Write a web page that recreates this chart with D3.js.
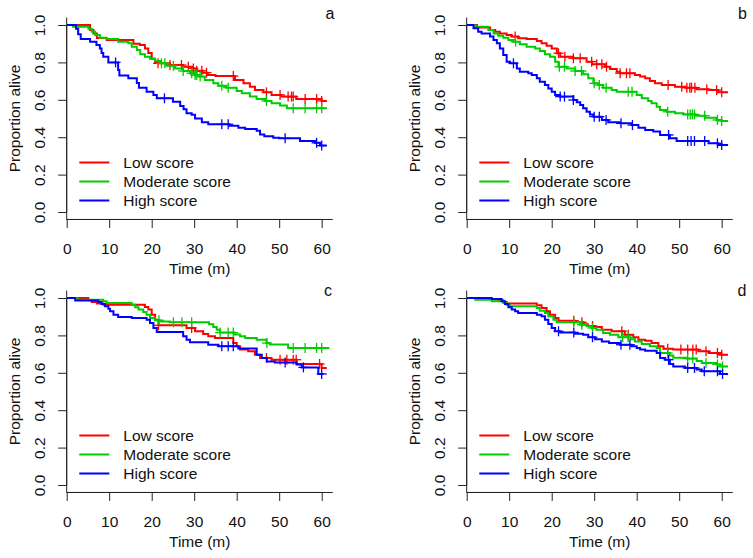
<!DOCTYPE html>
<html><head><meta charset="utf-8">
<script src="https://cdn.jsdelivr.net/npm/d3@7"></script>
<style>body{margin:0;background:#fff}svg{display:block}</style>
</head><body><svg id="chart" width="753" height="558"></svg>
<script>
const seriesNames = ['Low score', 'Moderate score', 'High score'];
const seriesColors = ['#ff0000', '#00cd00', '#0000ff'];
const xTicks = [0, 10, 20, 30, 40, 50, 60];
const yTicks = [0, 0.2, 0.4, 0.6, 0.8, 1.0];
const xLabel = 'Time (m)';
const yLabel = 'Proportion alive';
const panelLetters = ['a', 'b', 'c', 'd'];

// ---- panel a: [time, survival after drop] ----
const aLow = [[5.5,0.973],[6.3,0.955],[7.1,0.93],[9.4,0.92],[15.7,0.90],[17.2,0.893],[18.4,0.875],[19.2,0.85],[20,0.82],[20.8,0.80],[21.5,0.795],[24.3,0.786],[27.4,0.777],[29.4,0.768],[30.5,0.755],[32,0.745],[33.2,0.733],[35,0.727],[39.6,0.706],[41.6,0.688],[43.1,0.67],[44.3,0.652],[46.3,0.64],[48.2,0.626],[50.5,0.617],[54,0.604],[60,0.594]];
const aMod = [[1.5,0.99],[5.1,0.98],[5.9,0.964],[6.7,0.947],[7.8,0.932],[9.4,0.925],[12.1,0.911],[14.5,0.902],[15.3,0.884],[16.5,0.866],[17.3,0.843],[18.4,0.83],[19.6,0.82],[20.8,0.807],[22,0.795],[23.5,0.782],[25.5,0.768],[27.4,0.754],[29,0.742],[30.2,0.733],[31.2,0.724],[32.5,0.706],[34.5,0.688],[35.7,0.675],[37.6,0.665],[40,0.647],[41.2,0.635],[43.1,0.617],[44.7,0.604],[46.7,0.594],[48.2,0.581],[50.2,0.569],[51.8,0.555]];
const aHigh = [[2.2,0.98],[2.7,0.95],[3.3,0.925],[5.5,0.91],[7,0.893],[7.8,0.875],[8.2,0.85],[8.6,0.83],[9.8,0.80],[12.1,0.76],[12.4,0.73],[14.5,0.715],[16.5,0.69],[17,0.665],[18.8,0.643],[20.4,0.626],[21.2,0.608],[25,0.59],[26.7,0.567],[27.5,0.55],[28.2,0.528],[29.4,0.52],[30.2,0.50],[31.8,0.48],[33.3,0.469],[38.3,0.461],[40.4,0.451],[42,0.444],[44.7,0.435],[45.5,0.415],[46.5,0.405],[48.6,0.397],[50,0.394],[54.9,0.38],[58.4,0.37],[59.6,0.355]];
const aLowCens = [21.5,24.3,27,28.6,29.8,30.6,31.8,32.9,39.2,47,50.2,52.1,52.9,53.3,56.1,58.8,60];
const aModCens = [22.3,23.1,25.1,27.4,29.4,30.2,30.6,31.4,36.5,38,47,53.3,56.1,58.8,60];
const aHighCens = [11.5,23,36.5,38,51.4,58.8,60];
const aEnds = [61.2, 61.2, 61.2];

// ---- panel b ----
const bLow = [[2.4,0.986],[5.5,0.973],[6.7,0.964],[7.8,0.955],[9.4,0.947],[10.6,0.938],[12.1,0.929],[14.1,0.925],[16.5,0.914],[17.6,0.902],[18.8,0.889],[20,0.875],[21.2,0.849],[22,0.83],[25.1,0.822],[28.2,0.804],[29.5,0.79],[32.5,0.777],[33.7,0.765],[35.3,0.75],[36.1,0.742],[39.6,0.733],[40.8,0.724],[42,0.715],[43.1,0.70],[44.3,0.688],[45.9,0.679],[49,0.67],[51.4,0.665],[54.1,0.656],[56.9,0.652],[59.2,0.64]];
const bMod = [[2,0.99],[5.1,0.973],[6.3,0.955],[7.4,0.943],[8.6,0.932],[9.8,0.92],[11,0.911],[12.5,0.897],[14.1,0.884],[16.1,0.875],[17.2,0.861],[18.4,0.843],[19.6,0.83],[20.8,0.804],[21.6,0.777],[23.5,0.768],[25.5,0.754],[27.4,0.736],[28.6,0.715],[29.8,0.688],[31,0.679],[32.1,0.665],[34.1,0.652],[35.3,0.643],[40,0.626],[41.2,0.608],[42.7,0.594],[43.5,0.581],[44.7,0.563],[45.5,0.545],[47.1,0.536],[49,0.528],[51,0.522],[53.7,0.515],[56.1,0.504],[58.8,0.492],[60,0.487]];
const bHigh = [[1.6,0.982],[2.7,0.964],[3.5,0.955],[5.5,0.938],[6.3,0.92],[7.1,0.902],[7.8,0.875],[8.6,0.84],[9.4,0.804],[10.2,0.795],[11.8,0.768],[12.5,0.75],[14.5,0.742],[15.3,0.733],[16.5,0.715],[17.2,0.697],[18.4,0.679],[19.2,0.661],[20,0.643],[20.8,0.626],[22,0.617],[25.1,0.599],[25.9,0.587],[26.7,0.572],[27.4,0.555],[28.2,0.536],[29,0.522],[29.8,0.51],[31.8,0.492],[33.3,0.48],[36.1,0.474],[38.8,0.465],[40.4,0.451],[42,0.439],[43.9,0.43],[45.5,0.412],[47.8,0.394],[49.4,0.38],[56.9,0.367],[59.2,0.358]];
const bLowCens = [11.4,21.6,23.1,25.1,26.7,29.4,30.6,31.8,32.9,36.1,37.6,38.4,47.4,50.6,51.8,52.5,52.9,53.7,56.5,58.8,60];
const bModCens = [11.5,21.8,23,25.5,27,30,31.2,32.8,38,38.9,47.3,52,52.6,53.1,53.6,56,59,60];
const bHighCens = [11,22,23,25.1,30,31.2,32.8,36.3,39,47.5,52,52.8,53.6,56,59,60];
const bEnds = [61.5, 61.5, 61.5];

// ---- panel c ----
const cLow = [[5.1,0.988],[5.9,0.979],[7.1,0.97],[8.6,0.964],[18.4,0.952],[19.2,0.938],[20,0.911],[20.8,0.884],[21.6,0.854],[28.2,0.84],[30.2,0.822],[32.1,0.807],[33.3,0.795],[34.9,0.786],[39.2,0.759],[40,0.742],[40.8,0.724],[42.7,0.715],[44.3,0.697],[45.5,0.679],[48.2,0.67],[54.1,0.647],[60,0.626]];
const cMod = [[2.5,0.99],[8.6,0.982],[9.4,0.973],[15.3,0.964],[16.1,0.95],[16.9,0.938],[18,0.925],[18.8,0.911],[19.6,0.893],[20.8,0.881],[22,0.875],[24.3,0.87],[33.5,0.86],[34.5,0.845],[35.3,0.83],[36.1,0.815],[39.5,0.805],[40.8,0.795],[42,0.786],[44.7,0.777],[47,0.759],[47.8,0.752],[52.1,0.733]];
const cHigh = [[2,0.986],[7.4,0.979],[8.2,0.968],[9,0.956],[9.8,0.943],[10.2,0.929],[11,0.911],[12.1,0.898],[15.3,0.893],[18.8,0.884],[19.6,0.866],[20.4,0.84],[21.2,0.818],[27.4,0.795],[28.2,0.777],[29,0.763],[33.3,0.75],[35.7,0.742],[40.4,0.73],[44.7,0.697],[45.9,0.679],[47.1,0.661],[49,0.655],[54.1,0.645],[55.3,0.629],[59.2,0.594]];
const cLowCens = [21.6,29.4,47,50.2,51.8,53.3,54,59.5];
const cModCens = [21.7,25.1,27.1,29.4,36.1,38,39.2,47.1,53.3,56.1,58.8,60];
const cHighCens = [36.5,38,39.2,51.4,55.7,60];
const cEnds = [61.2, 61.8, 60.4];

// ---- panel d ----
const dLow = [[5.5,0.993],[7.5,0.988],[8.6,0.979],[9.4,0.97],[16.5,0.961],[17.6,0.947],[18.8,0.929],[19.6,0.911],[20.8,0.893],[21.6,0.879],[25.5,0.87],[27.5,0.86],[28.5,0.85],[30.2,0.845],[31.8,0.83],[34.1,0.822],[37.2,0.804],[39.2,0.79],[40.4,0.777],[42,0.772],[43.5,0.759],[45.1,0.742],[46.3,0.729],[48.6,0.724],[54.5,0.715],[56.9,0.706],[59.6,0.697]];
const dMod = [[2,0.991],[5.9,0.982],[8.6,0.973],[9.4,0.964],[10.2,0.956],[16.5,0.947],[17.2,0.932],[18.4,0.92],[19.2,0.902],[20.4,0.884],[21.2,0.87],[26.7,0.857],[28.2,0.849],[29.4,0.84],[30.5,0.83],[32.1,0.813],[33.7,0.804],[35.7,0.79],[38.5,0.78],[39.6,0.768],[41.2,0.754],[43.1,0.742],[44.7,0.733],[45.5,0.706],[47.8,0.693],[48.6,0.681],[51.8,0.676],[54.1,0.663],[55.3,0.652],[58.8,0.645],[59.6,0.634]];
const dHigh = [[5.9,0.995],[8.2,0.982],[9,0.968],[9.8,0.95],[10.6,0.938],[11.4,0.929],[12.1,0.92],[16.5,0.911],[17.6,0.902],[18.4,0.884],[19.2,0.861],[20,0.84],[20.8,0.822],[22,0.816],[25.5,0.809],[27.4,0.804],[28.6,0.79],[30.2,0.78],[31.8,0.768],[33.5,0.76],[36.1,0.75],[38.8,0.742],[40,0.733],[40.8,0.724],[42,0.718],[44.7,0.706],[45.5,0.679],[46.7,0.67],[47.8,0.647],[48.6,0.634],[51.4,0.626],[54.1,0.617],[55.3,0.608],[59.6,0.594]];
const dLowCens = [25.2,27.1,29.6,36.5,38,47.3,50.4,52,53.2,54,56.3,59,60];
const dModCens = [25.2,27.1,29.6,36.7,38,47.3,52,53.2,56.3,59,60.2];
const dHighCens = [21.6,25.2,29.6,36.3,38.4,47.5,52,53.6,55.9,59,60.2];
const dEnds = [61.5, 61.5, 61.5];

const panelData = [
  {curves: [aLow, aMod, aHigh], cens: [aLowCens, aModCens, aHighCens], ends: aEnds},
  {curves: [bLow, bMod, bHigh], cens: [bLowCens, bModCens, bHighCens], ends: bEnds},
  {curves: [cLow, cMod, cHigh], cens: [cLowCens, cModCens, cHighCens], ends: cEnds},
  {curves: [dLow, dMod, dHigh], cens: [dLowCens, dModCens, dHighCens], ends: dEnds}
];

// ---- layout ----
const layout = [
  {x0: 66.7, y1: 25, lx: 330, ly: 19},
  {x0: 466.7, y1: 25, lx: 742.5, ly: 19},
  {x0: 66.7, y1: 298, lx: 328, ly: 296},
  {x0: 466.7, y1: 298, lx: 742, ly: 296}
];
const pxPerT = 4.25, pxPerV = 187, xMax = 62.6;
const FONT = '"Liberation Sans", Arial, Helvetica, sans-serif';
const FS = 15.5;
const axisColor = '#222';

const svg = d3.select('#chart');
svg.append('rect').attr('width', 753).attr('height', 558).attr('fill', '#fff');

function survAt(steps, t) {
  let s = 1;
  for (const [tt, v] of steps) { if (tt <= t) s = v; else break; }
  return s;
}

panelData.forEach((pd, i) => {
  const L = layout[i];
  const x = d3.scaleLinear().domain([0, xMax]).range([L.x0, L.x0 + xMax * pxPerT]);
  const y = d3.scaleLinear().domain([-0.04, 1.04]).range([L.y1 + 1.04 * pxPerV, L.y1 - 0.04 * pxPerV]);
  const g = svg.append('g');

  // box (L shape)
  g.append('path')
    .attr('d', `M${x(0)},${y(1.04)}V${y(-0.04)}H${x(xMax)}`)
    .attr('fill', 'none').attr('stroke', axisColor).attr('stroke-width', 1);

  // y axis
  const ya = g.append('g').attr('transform', `translate(${x(0)},0)`)
    .call(d3.axisLeft(y).tickValues(yTicks).tickFormat(d3.format('.1f')).tickSize(8.5).tickSizeOuter(0));
  ya.select('.domain').attr('d', `M0,${y(0)}V${y(1)}`).attr('stroke', axisColor);
  ya.selectAll('.tick line').attr('stroke', axisColor);
  ya.selectAll('.tick text')
    .attr('transform', 'rotate(-90)').attr('x', 0).attr('y', -21.7).attr('dy', 0)
    .attr('text-anchor', 'middle').attr('fill', '#111')
    .style('font-family', FONT).style('font-size', FS + 'px');

  // x axis
  const xa = g.append('g').attr('transform', `translate(0,${y(-0.04)})`)
    .call(d3.axisBottom(x).tickValues(xTicks).tickFormat(d3.format('d')).tickSize(8.5).tickSizeOuter(0));
  xa.select('.domain').attr('d', `M${x(0)},0H${x(60)}`).attr('stroke', axisColor);
  xa.selectAll('.tick line').attr('stroke', axisColor);
  xa.selectAll('.tick text').attr('y', 35).attr('dy', 0).attr('fill', '#111')
    .style('font-family', FONT).style('font-size', FS + 'px');

  // axis titles
  g.append('text').attr('x', (x(0) + x(xMax)) / 2).attr('y', y(-0.04) + 55)
    .attr('text-anchor', 'middle').attr('fill', '#111')
    .style('font-family', FONT).style('font-size', FS + 'px').text(xLabel);
  const yc = (y(1.04) + y(-0.04)) / 2;
  g.append('text').attr('transform', `translate(${x(0) - 47},${yc}) rotate(-90)`)
    .attr('text-anchor', 'middle').attr('fill', '#111')
    .style('font-family', FONT).style('font-size', FS + 'px').text(yLabel);

  // panel letter
  g.append('text').attr('x', L.lx).attr('y', L.ly).attr('text-anchor', 'middle').attr('fill', '#111')
    .style('font-family', FONT).style('font-size', '16px').text(panelLetters[i]);

  // curves
  const line = d3.line().x(d => x(d[0])).y(d => y(d[1])).curve(d3.curveStepAfter);
  pd.curves.forEach((steps, k) => {
    const pts = [[0, 1], ...steps, [pd.ends[k], steps[steps.length - 1][1]]];
    g.append('path').attr('d', line(pts)).attr('fill', 'none')
      .attr('stroke', seriesColors[k]).attr('stroke-width', 2);
    const cg = g.append('g').attr('stroke', seriesColors[k]).attr('stroke-width', 1.3);
    pd.cens[k].forEach(t => {
      const cx = x(t), cy = y(survAt(steps, t));
      cg.append('line').attr('x1', cx).attr('x2', cx).attr('y1', cy - 5).attr('y2', cy + 5);
      cg.append('line').attr('x1', cx - 5).attr('x2', cx + 5).attr('y1', cy).attr('y2', cy);
    });
  });

  // legend
  seriesNames.forEach((name, k) => {
    const ry = L.y1 + 137.5 + k * 19;
    g.append('line').attr('x1', L.x0 + 12.6).attr('x2', L.x0 + 42.6).attr('y1', ry).attr('y2', ry)
      .attr('stroke', seriesColors[k]).attr('stroke-width', 2);
    g.append('text').attr('x', L.x0 + 56.6).attr('y', ry + 5.5).attr('fill', '#111')
      .style('font-family', FONT).style('font-size', FS + 'px').text(name);
  });
});
</script>
</body></html>
